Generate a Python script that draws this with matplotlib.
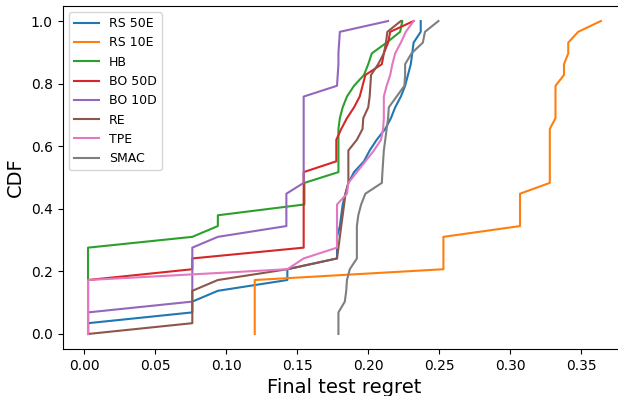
import numpy as np
import matplotlib
matplotlib.use("Agg")
import matplotlib.pyplot as plt

# Final test regret of 30 runs per optimizer
rs_50e = [0.0025, 0.0025, 0.076, 0.076, 0.094, 0.143, 0.143, 0.178, 0.178, 0.178,
          0.180, 0.181, 0.182, 0.184, 0.186, 0.190, 0.197, 0.201, 0.206, 0.212,
          0.216, 0.219, 0.223, 0.226, 0.228, 0.230, 0.231, 0.232, 0.237, 0.237]
rs_10e = [0.120] * 6 + [0.253] * 4 + [0.307] * 4 + [0.328] * 6 + [0.332] * 4 + \
         [0.338, 0.338, 0.341, 0.341, 0.348, 0.364]
hb = [0.0025] * 9 + [0.076, 0.094, 0.094, 0.155, 0.155, 0.155] + [0.179] * 5 + \
     [0.180, 0.182, 0.185, 0.190, 0.197, 0.200, 0.2025, 0.213, 0.2225, 0.224]
bo_50d = [0.0025] * 6 + [0.076, 0.076] + [0.1545] * 8 + [0.1775] * 3 + \
         [0.181, 0.185, 0.190, 0.194, 0.196, 0.198, 0.2096, 0.211, 0.214, 0.2155, 0.232]
bo_10d = [0.0025] * 3 + [0.076] * 6 + [0.094] + [0.1423] * 4 + [0.1545] * 9 + \
         [0.178, 0.1785, 0.179, 0.179, 0.1795, 0.180, 0.214]
re = [0.0025, 0.076, 0.076, 0.076, 0.076, 0.094, 0.143, 0.178, 0.179, 0.180,
      0.181, 0.182, 0.183, 0.184, 0.186, 0.186, 0.186, 0.186, 0.192, 0.196,
      0.1965, 0.200, 0.201, 0.2015, 0.202, 0.207, 0.211, 0.2125, 0.2135, 0.223]
tpe = [0.0025] * 6 + [0.143, 0.1545] + [0.178] * 5 + \
      [0.185, 0.186, 0.192, 0.198, 0.204, 0.209, 0.2105, 0.211, 0.211, 0.211,
       0.213, 0.2155, 0.217, 0.219, 0.223, 0.2265, 0.232]
smac = [0.179, 0.179, 0.179, 0.1835, 0.1845, 0.185, 0.187, 0.192, 0.192, 0.192,
        0.192, 0.193, 0.195, 0.198, 0.2096, 0.210, 0.2105, 0.211, 0.212, 0.213,
        0.214, 0.2145, 0.220, 0.2255, 0.226, 0.226, 0.2305, 0.2385, 0.240, 0.2495]

labels = ["RS 50E", "RS 10E", "HB", "BO 50D", "BO 10D", "RE", "TPE", "SMAC"]
series = [rs_50e, rs_10e, hb, bo_50d, bo_10d, re, tpe, smac]

fig = plt.figure(figsize=(6.18, 3.96), dpi=100)
ax = fig.add_axes([62.5 / 618, (396 - 349) / 396, (626 - 62.5) / 618, (349 - 6) / 396])

for lab, vals in zip(labels, series):
    v = np.sort(np.asarray(vals, dtype=float))
    cdf = np.linspace(0, 1, len(v))
    ax.plot(v, cdf, label=lab, linewidth=1.5)

ax.set_xlim(-0.0155, 0.3817)
ax.set_ylim(-0.048, 1.048)
ax.set_xticks([0.0, 0.05, 0.10, 0.15, 0.20, 0.25, 0.30, 0.35])
ax.set_yticks([0.0, 0.2, 0.4, 0.6, 0.8, 1.0])
ax.tick_params(labelsize=10)
ax.set_xlabel("Final test regret", fontsize=14)
ax.set_ylabel("CDF", fontsize=14)
ax.legend(loc="upper left", fontsize=9)

fig.savefig("out.png", dpi=100)
